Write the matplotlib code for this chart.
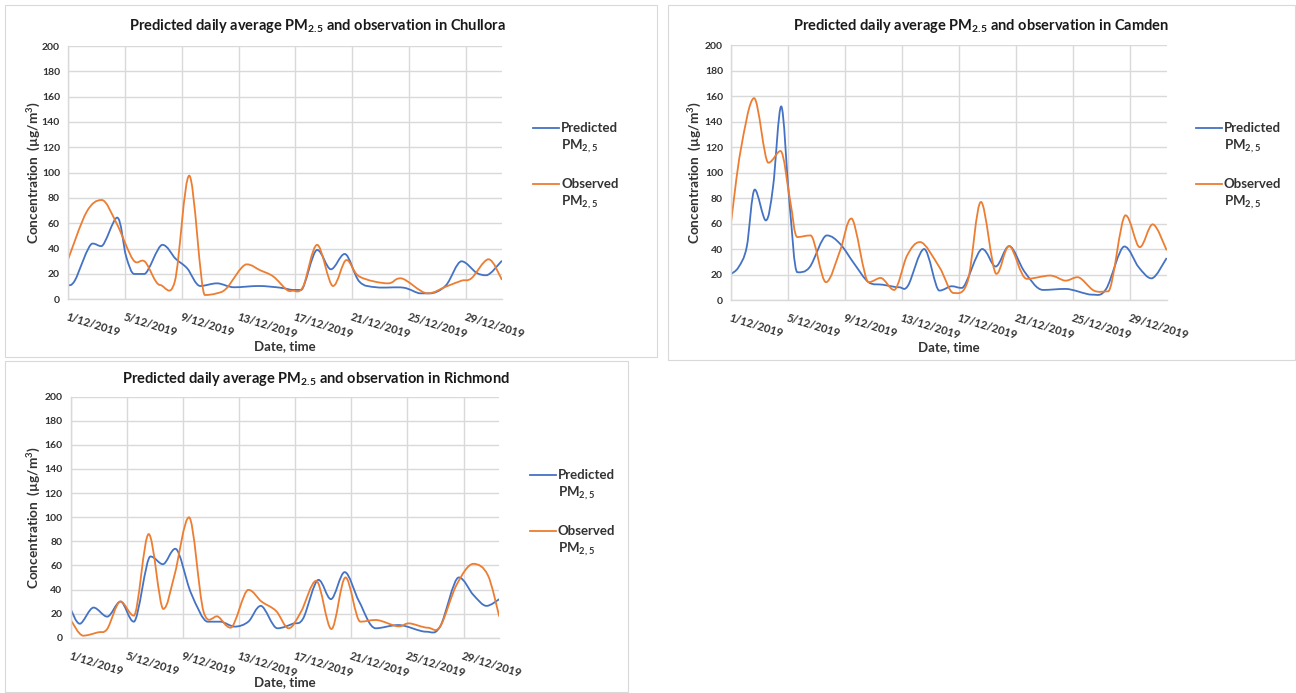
import matplotlib
matplotlib.use('Agg')
import matplotlib.pyplot as plt
import numpy as np
from matplotlib.path import Path
from matplotlib.patches import PathPatch, Rectangle
from matplotlib.lines import Line2D

plt.rcParams['font.family'] = ['Lato', 'DejaVu Sans']
plt.rcParams['mathtext.fontset'] = 'custom'
plt.rcParams['mathtext.rm'] = 'Lato'
plt.rcParams['mathtext.bf'] = 'Lato:bold'

W, H = 1296, 693

# x = days since 1/12/2019
tick_days = [0, 4, 8, 12, 16, 20, 24, 28]
tick_labels = ['1/12/2019', '5/12/2019', '9/12/2019', '13/12/2019',
               '17/12/2019', '21/12/2019', '25/12/2019', '29/12/2019']
x_end = 30.55

# Chullora
chullora_pred_x = [0, 0.47, 1.7, 2.33, 3.44, 4.07, 4.65, 5.35, 6.63, 7.56, 8.37, 9.3, 10.47,
                   11.7, 13.4, 14.9, 15.84, 16.4, 17.53, 18.5, 19.47, 20.5, 21.7, 23.6, 24.8,
                   25.5, 26.6, 27.7, 28.75, 29.45, 30.55]
chullora_pred_y = [11, 15, 44, 42, 64.5, 34, 20, 20, 43, 32, 24.5, 10.5, 12.6,
                   9.5, 10.5, 9.2, 7.4, 7.4, 39, 23.7, 35.8, 14, 9.5, 9.2, 4.7,
                   4.7, 11, 30, 21, 19, 30.5]
chullora_obs_x = [0, 1.29, 2.35, 3.4, 4.58, 5.4, 6.46, 7.5, 8.52, 9.62, 10.45, 11.15, 12.56,
                  13.5, 14.44, 15.4, 15.84, 16.54, 17.53, 18.65, 19.6, 20.5, 22.5, 23.4,
                  25.3, 26.6, 27.7, 28.4, 29.6, 30.55]
chullora_obs_y = [32, 69, 78.4, 60, 31, 29.7, 11.3, 14, 97.6, 3.4, 4.7, 8.7, 27.6,
                  23, 18, 7.4, 6.8, 10, 43, 10.5, 31, 18, 12.6, 16.6,
                  4.7, 10, 14.7, 16.6, 31.6, 15.3]

# Camden
camden_pred_x = [0, 0.51, 1.08, 1.65, 2.42, 2.93, 3.5, 4.07, 4.64, 5.5, 6.7, 7.64, 8.63,
                 9.63, 10.63, 11.77, 12.4, 13.53, 14.6, 15.47, 16.18, 17.6, 18.55, 19.5,
                 20.6, 21.88, 23.45, 25.3, 26.3, 27.58, 28.58, 29.49, 30.55]
camden_pred_y = [20.5, 25.8, 41.5, 86.7, 62.5, 89, 152, 78, 21.8, 25.8, 50.7, 44, 28.4,
                 14, 12, 10, 11.3, 40, 7.4, 10.8, 9.5, 40, 26.3, 42.3,
                 21.8, 7.9, 8.7, 4.2, 8.7, 42, 25.8, 17, 33]
camden_obs_x = [0, 0.66, 1.6, 2.6, 3.45, 4.13, 4.64, 5.56, 6.64, 7.64, 8.43, 9.63, 10.48,
                11.42, 12.34, 13.25, 14.6, 15.6, 16.6, 17.52, 18.6, 19.5, 20.74, 22.36,
                23.45, 24.3, 25.44, 26.44, 27.66, 28.66, 29.57, 30.55]
camden_obs_y = [62.5, 117.7, 158.5, 107.8, 117, 78, 49.4, 50.7, 14, 39, 64, 14, 17.3,
                7.9, 35, 45.5, 25.8, 5.5, 15.2, 77, 20.5, 42.3, 16.6, 19.2,
                15.2, 17.9, 7.4, 6.8, 66.5, 41.5, 59.4, 39]

# Richmond
richmond_pred_x = [0, 0.65, 1.63, 2.6, 3.55, 4.5, 5.68, 6.57, 7.46, 8.58, 9.76, 10.65, 11.69,
                   12.66, 13.55, 14.73, 15.83, 16.57, 17.66, 18.55, 19.53, 20.56, 21.75,
                   23.37, 25.3, 26.33, 27.66, 28.7, 29.64, 30.55]
richmond_pred_y = [23.6, 11.6, 25, 17.5, 30, 13.3, 67.4, 61, 73.8, 36.9, 13.3, 13.3, 9.2,
                   13.3, 26.4, 7.8, 11.6, 16, 48, 32, 54.4, 30, 7.8,
                   10.5, 5, 9.2, 50, 35.5, 26.4, 32]
richmond_obs_x = [0, 0.89, 1.92, 2.6, 3.55, 4.5, 5.56, 6.6, 7.4, 8.43, 9.47, 10.5, 11.4,
                  12.66, 13.6, 14.64, 15.53, 16.42, 17.5, 18.58, 19.59, 20.65, 21.75,
                  23.37, 24.1, 25.44, 26.33, 27.5, 28.7, 29.73, 30.55]
richmond_obs_y = [14.7, 1.7, 4.4, 7.2, 30, 18.3, 86, 23.9, 52, 99.9, 21.6, 17.5, 8.3,
                  39.7, 30, 22.2, 7.8, 21.6, 47.2, 7.2, 50, 13.3, 14.7,
                  9.4, 11.9, 8.3, 9.2, 43.8, 61.3, 52, 17.5]

BLUE = '#4472C4'
ORANGE = '#ED7D31'
GRID = '#d9d9d9'
TEXT = '#333333'


def smooth_path(xs, ys):
    # Catmull-Rom spline through the points as cubic Bezier segments;
    # tangents are flattened at local extremes so the curve does not overshoot
    pts = np.column_stack([xs, ys]).astype(float)
    n = len(pts)
    tang = np.zeros_like(pts)
    for i in range(n):
        a = pts[max(i - 1, 0)]
        b = pts[min(i + 1, n - 1)]
        tang[i] = (b - a) / 6
        if 0 < i < n - 1 and (pts[i, 1] - a[1]) * (b[1] - pts[i, 1]) <= 0:
            tang[i, 1] = 0
    verts = [pts[0]]
    codes = [Path.MOVETO]
    for i in range(n - 1):
        verts += [pts[i] + tang[i], pts[i + 1] - tang[i + 1], pts[i + 1]]
        codes += [Path.CURVE4] * 3
    return Path(verts, codes)


def px_rect(x0, y0, x1, y1):
    return [x0 / W, 1 - y1 / H, (x1 - x0) / W, (y1 - y0) / H]


fig = plt.figure(figsize=(W / 100, H / 100), dpi=100)

panels = [
    dict(site='Chullora', box=(5, 5, 657, 357), axes=(68.3, 46, 502, 299.3),
         title_xy=(317, 26), ylab_x=33, xlab_y=346, leg=(533, 128),
         px=chullora_pred_x, py=chullora_pred_y, ox=chullora_obs_x, oy=chullora_obs_y),
    dict(site='Camden', box=(668, 5, 1295, 360), axes=(731.3, 45.3, 1166.7, 300),
         title_xy=(981, 26), ylab_x=694, xlab_y=347, leg=(1196, 128),
         px=camden_pred_x, py=camden_pred_y, ox=camden_obs_x, oy=camden_obs_y),
    dict(site='Richmond', box=(5, 361, 628, 692), axes=(70.7, 396.7, 499.3, 637.7),
         title_xy=(316, 379), ylab_x=33, xlab_y=682, leg=(530, 475),
         px=richmond_pred_x, py=richmond_pred_y, ox=richmond_obs_x, oy=richmond_obs_y),
]

for p in panels:
    bx0, by0, bx1, by1 = p['box']
    fig.add_artist(Rectangle((bx0 / W, 1 - by1 / H), (bx1 - bx0) / W, (by1 - by0) / H,
                             transform=fig.transFigure, fill=False, ec=GRID, lw=0.8))

    ax = fig.add_axes(px_rect(*p['axes']))
    ax.set_xlim(0, x_end)
    ax.set_ylim(0, 200)
    ax.set_yticks(range(0, 201, 20))
    ax.set_xticks(tick_days)
    ax.set_xticklabels(tick_labels, rotation=-17, ha='left', va='top',
                       rotation_mode='anchor', fontsize=8, fontweight='bold', color=TEXT)
    ax.tick_params(axis='y', labelsize=7.5, labelcolor=TEXT, length=0, pad=6)
    ax.tick_params(axis='x', length=0, pad=9)
    for lab in ax.get_yticklabels():
        lab.set_fontweight('bold')
    ax.grid(True, color=GRID, lw=1.0)
    ax.set_axisbelow(True)
    for side in ['top', 'right']:
        ax.spines[side].set_visible(False)
    for side in ['left', 'bottom']:
        ax.spines[side].set_color(GRID)
        ax.spines[side].set_linewidth(1.0)

    ax.add_patch(PathPatch(smooth_path(p['px'], p['py']), fc='none', ec=BLUE, lw=1.3))
    ax.add_patch(PathPatch(smooth_path(p['ox'], p['oy']), fc='none', ec=ORANGE, lw=1.3))

    tx, ty = p['title_xy']
    fig.text(tx / W, 1 - ty / H,
             'Predicted daily average PM$_{\\mathbf{2.5}}$ and observation in ' + p['site'],
             ha='center', va='center', fontsize=10.5, fontweight='bold', color='#1a1a1a')

    ax0, ay0, ax1, ay1 = p['axes']
    fig.text(p['ylab_x'] / W, 1 - (ay0 + ay1) / 2 / H, 'Concentration  (µg/m$^\\mathbf{3}$)',
             rotation=90, ha='center', va='center', fontsize=9.8, fontweight='bold', color=TEXT)
    fig.text((ax0 + ax1) / 2 / W, 1 - p['xlab_y'] / H, 'Date, time',
             ha='center', va='center', fontsize=9.5, fontweight='bold', color=TEXT)

    # legend
    lx, ly = p['leg']
    for k, (name, col) in enumerate([('Predicted', BLUE), ('Observed', ORANGE)]):
        yy = ly + k * 56
        fig.add_artist(Line2D([lx / W, (lx + 26) / W], [1 - yy / H, 1 - yy / H],
                              transform=fig.transFigure, color=col, lw=1.3))
        fig.text((lx + 28) / W, 1 - yy / H, name, ha='left', va='center',
                 fontsize=9.5, fontweight='bold', color=TEXT)
        fig.text((lx + 28) / W, 1 - (yy + 18) / H, 'PM$_{\\mathbf{2,5}}$', ha='left', va='center',
                 fontsize=9.5, fontweight='bold', color=TEXT)

fig.savefig('out.png', dpi=100)
